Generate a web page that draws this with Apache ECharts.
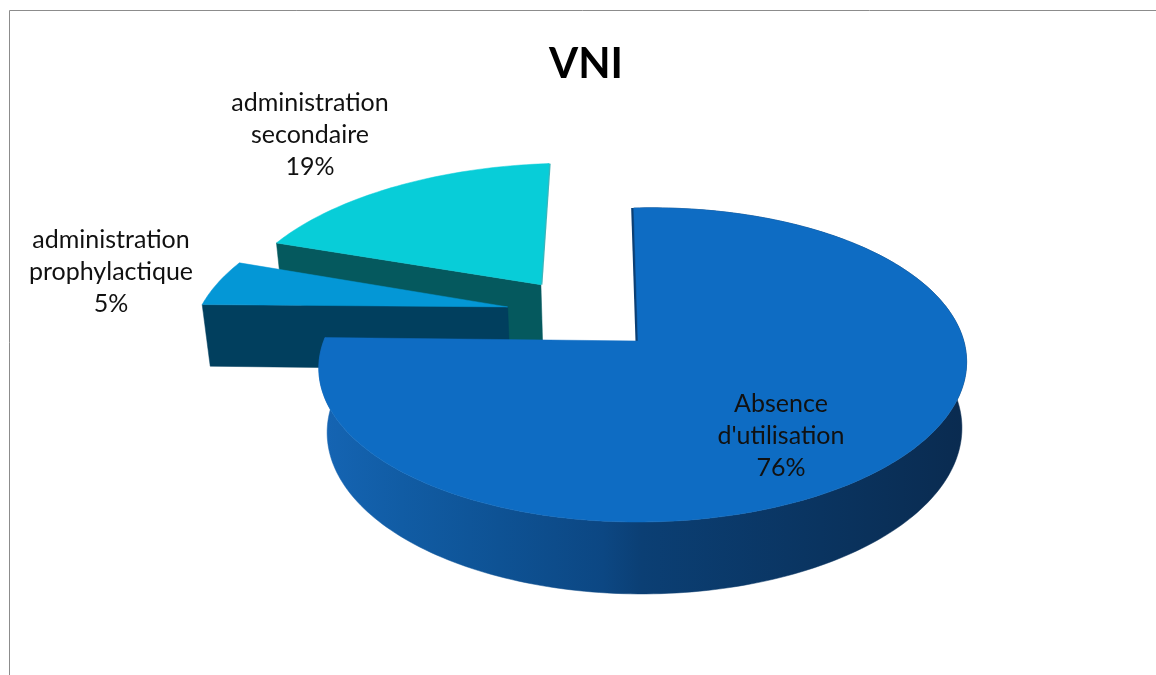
<!DOCTYPE html>
<html>
<head>
<meta charset="utf-8">
<title>VNI</title>
<style>
  html, body { margin: 0; padding: 0; background: #fff; }
  #chart { width: 1156px; height: 675px; }
</style>
<script src="https://cdn.jsdelivr.net/npm/echarts@6/dist/echarts.min.js"></script>
</head>
<body>
<div id="chart"></div>
<script>
var chartTitle = 'VNI'
var categories = ["Absence\nd'utilisation", 'administration\nprophylactique', 'administration\nsecondaire']
var values = [76, 5, 19]

// look of each slice, same order as categories
var topColors = ['#0E6CC3', '#0497D6', '#08CDD8']
var wallColors = ['#0B3F74', '#013F5E', '#05595E']
var explodeU = [0, -0.421, -0.317]   // slice offset on the disc, in radii
var explodeV = [0, 0.249, 0.405]
var sliceScale = [1, 1.027, 1.025]
var skewZ = [2, 0, 0]
var paintOrder = [3, 2, 1]           // far slices first
var labelPos = [[781, 436], [111, 272], [310, 135]]

// fake 3d camera: disc coords (u right, v far, z down) to the screen
var cx = 638, cy = 341, radiusX = 320, radiusY = 153.3, thick = 66
var persp = 0.153, perspZ = 0.02, yaw = -0.012, skew = -5, roll = -6

function project(i, u, v, z) {
  var d = 1 + persp * v + perspZ * z + yaw * u
  return [cx + (radiusX * u + skew * v) / d + skewZ[i] * z, cy + (thick * z - radiusY * v) / d + roll * u]
}

var total = values.reduce(function (a, b) { return a + b }, 0)
var startAngles = []
values.reduce(function (sum, v, i) {
  startAngles[i] = sum / total * Math.PI * 2
  return sum + v
}, 0)

function rimPoint(i, angle, z) {
  return project(i, explodeU[i] + sliceScale[i] * Math.sin(angle), explodeV[i] + sliceScale[i] * Math.cos(angle), z)
}

function renderSlice(params, api) {
  var i = api.value(0)
  var a0 = startAngles[i]
  var a1 = a0 + api.value(1) / total * Math.PI * 2
  var steps = Math.ceil(api.value(1) * 3)
  var rimTop = [], rimBottom = []
  for (var s = 0; s <= steps; s++) {
    var a = a0 + (a1 - a0) * s / steps
    rimTop.push(rimPoint(i, a, 0))
    rimBottom.push(rimPoint(i, a, 1))
  }
  var apexTop = project(i, explodeU[i], explodeV[i], 0)
  var apexBottom = project(i, explodeU[i], explodeV[i], 1)
  var base = paintOrder[i] * 10

  function poly(points, fill, z2) {
    return {
      type: 'polygon',
      shape: { points: points },
      style: { fill: fill, stroke: fill, lineWidth: 0.5 },
      z2: base + z2
    }
  }
  function edge(from, color, width) {
    return {
      type: 'line',
      shape: { x1: from[0], y1: from[1], x2: apexTop[0], y2: apexTop[1] },
      style: { stroke: color, lineWidth: width },
      z2: base
    }
  }

  var children = []
  if (i === 0) {
    // only the big slice shows its outer wall, the exploded ones face away
    var outerFill = new echarts.graphic.LinearGradient(318, 0, 966, 0, [
      { offset: 0, color: '#1565B4' },
      { offset: 0.13, color: '#115CA4' },
      { offset: 0.28, color: '#0E5294' },
      { offset: 0.44, color: '#0C4783' },
      { offset: 0.5, color: '#0B3F74' },
      { offset: 0.75, color: '#0A3562' },
      { offset: 1, color: '#0A2B50' }
    ], true)
    children.push(edge(rimTop[0], wallColors[0], 5))
    children.push(poly(rimTop.concat(rimBottom.slice().reverse()), outerFill, 2))
  } else {
    children.push(poly([apexTop, rimTop[0], rimBottom[0], apexBottom], wallColors[i], 1))
    if (i === 2) children.push(edge(rimTop[steps], '#3FB4BA', 3))
  }
  children.push(poly([apexTop].concat(rimTop), topColors[i], 3))
  children.push({
    type: 'text',
    z2: 100,
    style: {
      x: labelPos[i][0],
      y: labelPos[i][1],
      text: categories[i] + '\n' + api.value(1) + '%',
      fill: '#111',
      font: '25px Lato',
      lineHeight: 32,
      align: 'center',
      verticalAlign: 'middle'
    }
  })
  return { type: 'group', children: children }
}

var chart = echarts.init(document.getElementById('chart'))
chart.setOption({
  animation: false,
  title: {
    text: chartTitle,
    left: 581,
    top: 38,
    textAlign: 'center',
    textStyle: { fontFamily: 'Lato', fontWeight: 'bold', fontSize: 42, color: '#000' }
  },
  graphic: [
    { type: 'line', shape: { x1: 9.5, y1: 10.5, x2: 1156, y2: 10.5 }, style: { stroke: '#8c8c8c', lineWidth: 1 } },
    { type: 'line', shape: { x1: 9.5, y1: 10.5, x2: 9.5, y2: 675 }, style: { stroke: '#8c8c8c', lineWidth: 1 } }
  ],
  series: [{
    type: 'custom',
    coordinateSystem: 'none',
    renderItem: renderSlice,
    data: values.map(function (v, i) { return [i, v] })
  }]
})
</script>
</body>
</html>
